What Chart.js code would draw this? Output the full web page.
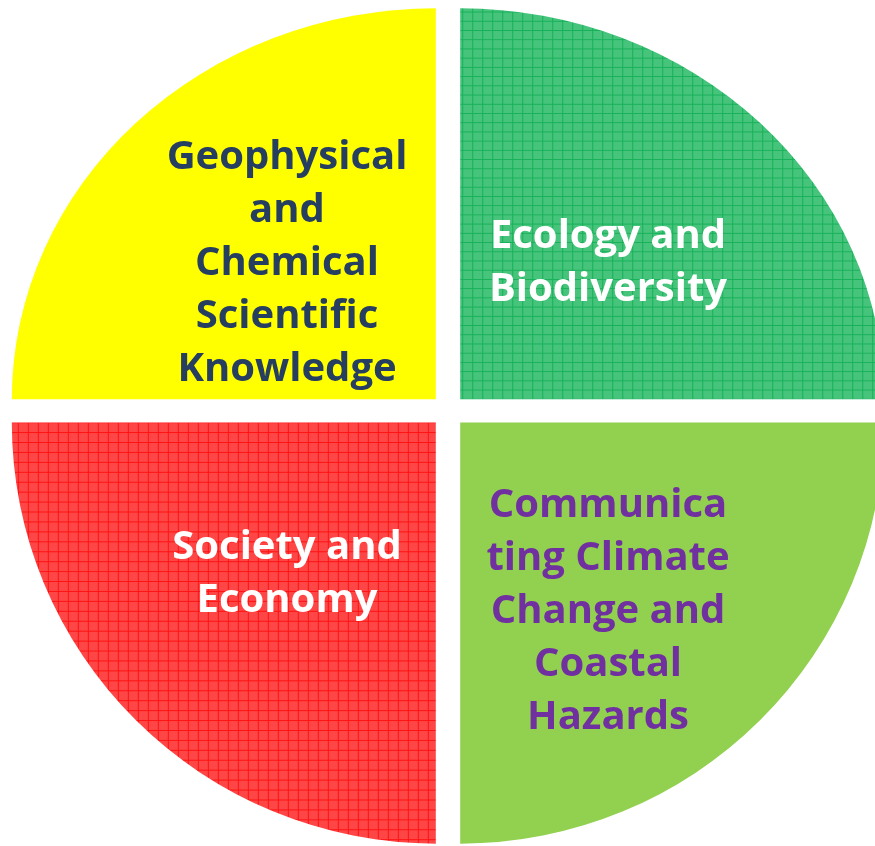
<!DOCTYPE html>
<html>
<head>
<meta charset="utf-8">
<script src="https://cdn.jsdelivr.net/npm/chart.js@4.4.0/dist/chart.umd.min.js"></script>
<style>
    html, body { margin: 0; padding: 0; background: #fff; overflow: hidden; }
    #wrap { width: 896px; height: 846px; }
</style>
</head>
<body>
<div id="wrap"><canvas id="chart-pie" width="896" height="846"></canvas></div>
<script>
// slices go clockwise from 12 o'clock
const categorias = [
    ["Ecology and", "Biodiversity"],
    ["Communica", "ting Climate", "Change and", "Coastal", "Hazards"],
    ["Society and", "Economy"],
    ["Geophysical", "and", "Chemical", "Scientific", "Knowledge"],
];
const valores = [25, 25, 25, 25];
const colorTexto = ["#ffffff", "#7030a0", "#ffffff", "#263e60"];

function gridPattern(fondo, linea, size) {
    const c = document.createElement("canvas");
    c.width = size;
    c.height = size;
    const g = c.getContext("2d");
    g.fillStyle = fondo;
    g.fillRect(0, 0, size, size);
    g.fillStyle = linea;
    g.fillRect(0, 0, size, 1);
    g.fillRect(0, 0, 1, size);
    return g.createPattern(c, "repeat");
}

// top half of the picture is a bit squashed
const escalaY = [0.922, 0.993, 0.993, 0.922];

const elipse = {
    id: "elipse",
    beforeDatasetDraw(chart, args) {
        const ctx = chart.ctx;
        args.meta.data.forEach((arc, i) => {
            ctx.save();
            ctx.translate(arc.x, arc.y);
            ctx.scale(1, escalaY[i]);
            ctx.translate(-arc.x, -arc.y);
            arc.draw(ctx, chart.chartArea);
            ctx.restore();
        });
        return false;
    },
};

const textos = {
    id: "textos",
    afterDatasetsDraw(chart) {
        const ctx = chart.ctx;
        const arc = chart.getDatasetMeta(0).data[0];
        const cx = arc.x;
        const cy = arc.y;
        // x of text column and first baseline, per slice
        const pos = [
            [cx + 160, cy - 163],
            [cx + 160, cy + 106],
            [cx - 161, cy + 148],
            [cx - 161, cy - 242],
        ];
        ctx.save();
        ctx.font = "bold 40px 'Open Sans'";
        ctx.textAlign = "center";
        ctx.textBaseline = "alphabetic";
        categorias.forEach((lineas, i) => {
            ctx.fillStyle = colorTexto[i];
            lineas.forEach((t, k) => {
                ctx.fillText(t, pos[i][0], pos[i][1] + k * 53);
            });
        });
        ctx.restore();
    },
};

function chartPie() {
    const ctx = document.getElementById("chart-pie").getContext("2d");
    new Chart(ctx, {
        type: "pie",
        data: {
            labels: categorias.map((l) => l.join(" ")),
            datasets: [
                {
                    data: valores,
                    backgroundColor: [
                        gridPattern("#46c47c", "#16b158", 10),
                        "#92d050",
                        gridPattern("#ff4646", "#ff1212", 10),
                        "#ffff00",
                    ],
                    borderWidth: 0,
                    offset: 69,
                    hoverOffset: 69,
                },
            ],
        },
        options: {
            responsive: false,
            animation: false,
            radius: 424,
            layout: { padding: { top: 0, bottom: 25, left: 0, right: 0 } },
            plugins: {
                legend: { display: false },
                tooltip: { enabled: false },
            },
            events: [],
        },
        plugins: [elipse, textos],
    });
}

document.addEventListener("DOMContentLoaded", function () {
    chartPie();
});
</script>
</body>
</html>
